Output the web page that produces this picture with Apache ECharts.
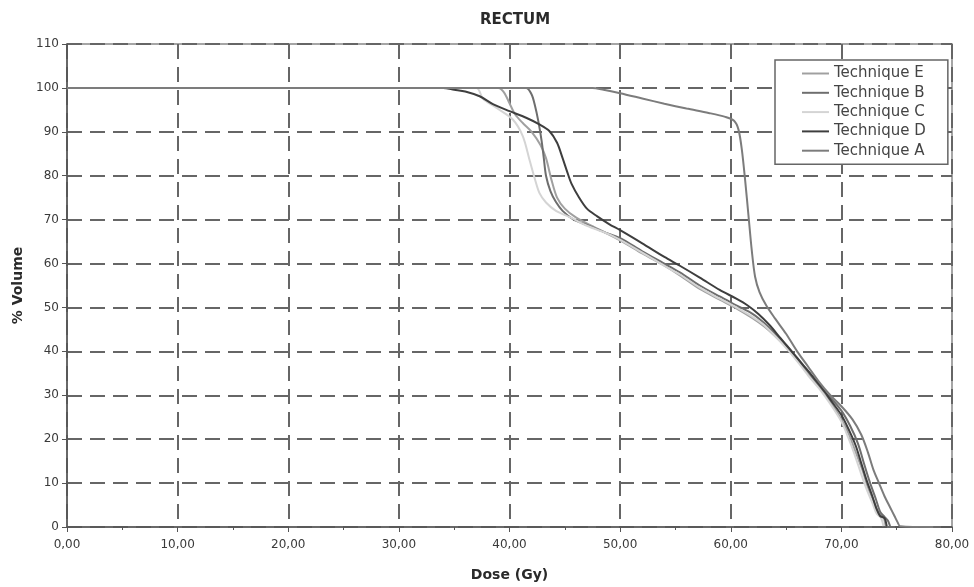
<!DOCTYPE html>
<html>
<head>
<meta charset="utf-8">
<script src="https://cdn.jsdelivr.net/npm/echarts@6/dist/echarts.min.js"></script>
<style>
html,body{margin:0;padding:0;background:#fff;}
#chart{width:974px;height:587px;}
</style>
</head>
<body>
<div id="chart"></div>
<script>
// Dose (Gy), % Volume pairs
const techniqueE = [[0,100],[39.0,100],[39.5,99],[40,96.5],[40.5,94],[41.2,92],[42,90],[42.8,87],[43.3,84],[43.8,79],[44.3,75],[45,72.5],[46,70.5],[47.5,68.5],[50,65.3],[52,62.3],[54,59.5],[55.4,57.3],[57.2,54.2],[59,51.8],[60.5,49.8],[62,47.5],[63,45.7],[64,43.5],[65,41],[66,38],[67,35],[68,32],[69,28.5],[70,24.5],[70.7,21],[71.3,17],[71.9,13],[72.4,9],[72.9,6],[73.3,3.5],[73.8,2.2],[74.0,0.2]];
const techniqueB = [[0,100],[41.5,100],[42.0,98.5],[42.3,96],[42.6,92.5],[42.9,88],[43.1,84],[43.3,80],[43.7,76.5],[44.2,74],[44.8,72],[45.8,70],[47,68.8],[48.5,67.2],[50,65.8],[52,62.8],[54,60],[55.4,58],[57.2,55],[59,52.5],[60.5,50.5],[62,48.5],[63,46.5],[64,44],[65,41.5],[66,38.5],[67,35.5],[68,32],[69,29.5],[70,26.5],[70.8,23],[71.5,19],[72.1,14],[72.6,10],[73.1,6.5],[73.5,3.5],[73.9,2.3],[74.2,1.5],[74.4,0.2]];
const techniqueC = [[0,100],[37.0,100],[37.6,97.5],[38.8,95.5],[40.3,92.8],[41.2,89],[41.8,83.7],[42.3,79.2],[42.7,76.1],[43.3,73.9],[44.2,72],[45.5,70.5],[47,68.6],[49.4,66.2],[52,62.5],[54,59.5],[55.4,57.5],[57.2,54.5],[59,52],[60.5,50],[62,47.8],[63,46],[64,43.5],[65,40.8],[66,37.8],[67,34.5],[68,31.5],[69,28],[70,24],[70.6,20.5],[71.2,16.5],[71.8,12],[72.3,8.5],[72.8,5.5],[73.2,3],[73.6,2],[73.8,0.2]];
const techniqueD = [[0,100],[34.0,100],[35,99.6],[36,99.2],[37.3,98.1],[38.5,96.3],[40,94.7],[41.5,93.2],[42.7,91.7],[43.6,90.2],[44.3,87.5],[44.8,84],[45.2,81],[45.6,78.2],[46.3,75],[47,72.5],[47.9,70.8],[49,69],[50,67.6],[52,64.6],[54,61.5],[55.4,59.5],[57.2,56.8],[59,54],[60.5,52],[61.5,50.5],[62.5,48.5],[63.5,46],[64.5,43],[65.5,40],[66.5,37],[67.5,34],[68.3,31.5],[69,29],[70,25.5],[70.7,22],[71.3,18.5],[71.8,14.5],[72.3,10.5],[72.8,7],[73.2,4],[73.5,2.5],[73.9,2],[74.1,0.2]];
const techniqueA = [[0,100],[47.5,100],[48.5,99.6],[50,98.8],[52,97.6],[54,96.4],[56,95.3],[58,94.3],[59.5,93.4],[60.3,92.5],[60.7,90.5],[61.0,86],[61.3,79],[61.6,71],[61.9,63],[62.2,57],[62.6,53.5],[63.2,50.5],[64,47.5],[65,44],[66,40],[67,36.5],[68,33],[69,30],[70,27.5],[71,24.5],[71.8,21],[72.4,17],[72.9,13],[73.4,10],[73.9,7],[74.4,4.5],[74.8,2.5],[75.1,1],[75.3,0.2],[78.3,0]];

const seriesNames = ['Technique E','Technique B','Technique C','Technique D','Technique A'];
const seriesData = [techniqueE, techniqueB, techniqueC, techniqueD, techniqueA];
const seriesColors = ['#a0a0a0','#6e6e6e','#d4d4d4','#3e3e3e','#7c7c7c'];

const chart = echarts.init(document.getElementById('chart'), null, {renderer:'canvas'});
const font = 'Tahoma, "DejaVu Sans", sans-serif';

chart.setOption({
  animation:false,
  backgroundColor:'#fff',
  title:{
    text:'RECTUM', left:510, top:8, textAlign:'center',
    textStyle:{fontFamily:font, fontSize:15, fontWeight:'bold', color:'#2a2a2a'}
  },
  legend:{
    orient:'vertical', left:775, top:60,
    data:seriesNames,
    icon:'path://M0,0L30,0L30,2.2L0,2.2Z',
    itemWidth:27, itemHeight:14, itemGap:4.3,
    padding:[6,22,6,27],
    backgroundColor:'#fff', borderColor:'#666', borderWidth:1.5,
    textStyle:{fontFamily:font, fontSize:15, color:'#444'}
  },
  grid:{left:67, right:22, top:44, bottom:59, show:true, borderColor:'#888', borderWidth:1.5, backgroundColor:'transparent'},
  xAxis:{
    type:'value', min:0, max:80, interval:10,
    name:'Dose (Gy)', nameLocation:'middle', nameGap:41,
    nameTextStyle:{fontFamily:font, fontSize:14, fontWeight:'bold', color:'#2a2a2a'},
    axisLine:{show:true, onZero:false, lineStyle:{color:'#555', width:1.5}},
    axisTick:{show:true, length:5, lineStyle:{color:'#555'}},
    minorTick:{show:true, splitNumber:2, length:3, lineStyle:{color:'#555'}},
    axisLabel:{fontFamily:font, fontSize:12, color:'#3a3a3a', margin:12,
      formatter:v=>v.toFixed(2).replace('.',',')},
    splitLine:{show:true, lineStyle:{color:'#666', width:2, type:[15,8]}}
  },
  yAxis:{
    type:'value', min:0, max:110, interval:10,
    name:'% Volume', nameLocation:'middle', nameGap:38, nameRotate:90,
    nameTextStyle:{fontFamily:font, fontSize:14, fontWeight:'bold', color:'#2a2a2a'},
    axisLine:{show:true, lineStyle:{color:'#555', width:1.5}},
    axisTick:{show:true, length:5, lineStyle:{color:'#555'}},
    axisLabel:{fontFamily:font, fontSize:12, color:'#3a3a3a', margin:8},
    splitLine:{show:true, lineStyle:{color:'#666', width:2, type:[15,8]}}
  },
  series: seriesNames.map((n,i)=>({
    name:n, type:'line', data:seriesData[i], symbol:'none', smooth:0.3,
    lineStyle:{color:seriesColors[i], width:2}, itemStyle:{color:seriesColors[i]},
    z: 3
  }))
});
</script>
</body>
</html>
